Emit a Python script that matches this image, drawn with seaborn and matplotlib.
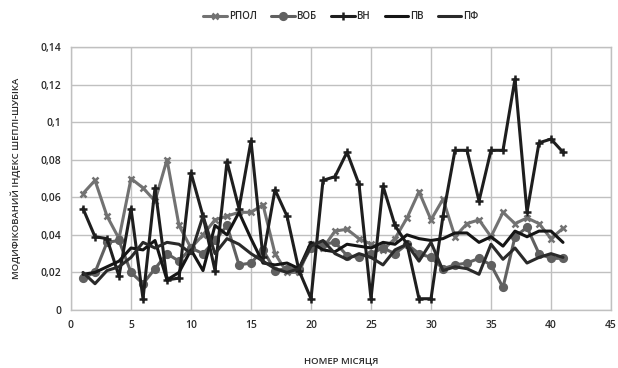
import numpy as np
import pandas as pd
import seaborn as sns
import matplotlib
matplotlib.use("Agg")
import matplotlib.pyplot as plt
from matplotlib.ticker import FuncFormatter, MultipleLocator

months = list(range(1, 42))

rpol = [0.062, 0.069, 0.050, 0.038, 0.070, 0.065, 0.058, 0.080, 0.045, 0.033,
        0.040, 0.048, 0.050, 0.052, 0.052, 0.056, 0.030, 0.020, 0.020, 0.035,
        0.033, 0.042, 0.043, 0.038, 0.035, 0.032, 0.038, 0.049, 0.063, 0.048,
        0.059, 0.039, 0.046, 0.048, 0.039, 0.052, 0.046, 0.049, 0.046, 0.038,
        0.0435]
vob = [0.017, 0.020, 0.036, 0.037, 0.020, 0.014, 0.022, 0.030, 0.026, 0.033,
       0.030, 0.037, 0.045, 0.024, 0.025, 0.032, 0.021, 0.022, 0.022, 0.033,
       0.035, 0.036, 0.029, 0.028, 0.030, 0.033, 0.030, 0.035, 0.030, 0.028,
       0.022, 0.024, 0.025, 0.0275, 0.024, 0.012, 0.039, 0.044, 0.030, 0.0275,
       0.0275]
vn = [0.054, 0.039, 0.038, 0.018, 0.054, 0.006, 0.065, 0.016, 0.017, 0.073,
      0.050, 0.021, 0.079, 0.054, 0.090, 0.028, 0.064, 0.050, 0.021, 0.006,
      0.069, 0.071, 0.084, 0.067, 0.006, 0.066, 0.045, 0.035, 0.006, 0.006,
      0.050, 0.085, 0.085, 0.058, 0.085, 0.085, 0.123, 0.052, 0.089, 0.091,
      0.084]
pv = [0.019, 0.020, 0.023, 0.026, 0.033, 0.032, 0.037, 0.016, 0.020, 0.032,
      0.021, 0.045, 0.040, 0.052, 0.038, 0.025, 0.024, 0.025, 0.022, 0.036,
      0.032, 0.031, 0.035, 0.034, 0.033, 0.036, 0.035, 0.040, 0.038, 0.037,
      0.038, 0.041, 0.041, 0.036, 0.039, 0.034, 0.042, 0.039, 0.042, 0.042,
      0.036]
pf = [0.020, 0.014, 0.021, 0.023, 0.028, 0.036, 0.033, 0.036, 0.035, 0.030,
      0.050, 0.030, 0.038, 0.035, 0.030, 0.026, 0.022, 0.020, 0.022, 0.034,
      0.037, 0.030, 0.027, 0.030, 0.028, 0.024, 0.032, 0.035, 0.026, 0.036,
      0.021, 0.023, 0.022, 0.019, 0.035, 0.027, 0.033, 0.025, 0.028, 0.030,
      0.028]

series_names = ["РПОЛ", "ВОБ", "ВН", "ПВ", "ПФ"]
series_values = [rpol, vob, vn, pv, pf]

sns.set_style("white")
plt.rcParams["font.family"] = ["Open Sans", "DejaVu Sans"]

fig = plt.figure(figsize=(6.18, 3.68), dpi=100)
ax = fig.add_axes([71/618, 1-310/368, (611-71)/618, (310-47)/368])

colors = {"РПОЛ": "#727272", "ВОБ": "#606060", "ВН": "#1e1e1e",
          "ПВ": "#151515", "ПФ": "#2a2a2a"}
markers = {"РПОЛ": "x", "ВОБ": "o", "ВН": "+", "ПВ": None, "ПФ": None}
msizes = {"РПОЛ": 4.5, "ВОБ": 4.8, "ВН": 5.5, "ПВ": 0, "ПФ": 0}

for name, vals in zip(series_names, series_values):
    d = pd.DataFrame({"month": months, "value": vals})
    sns.lineplot(data=d, x="month", y="value", color=colors[name],
                 marker=markers[name], markersize=msizes[name],
                 markeredgewidth=1.8, markeredgecolor=colors[name],
                 linewidth=2.2, label=name, ax=ax)

ax.set_xlim(0, 45)
ax.set_ylim(0, 0.14)
ax.xaxis.set_major_locator(MultipleLocator(5))
ax.yaxis.set_major_locator(MultipleLocator(0.02))
fmt = FuncFormatter(lambda v, p: "0" if abs(v) < 1e-9 else f"{v:.2f}".rstrip("0").replace(".", ","))
ax.yaxis.set_major_formatter(fmt)
ax.grid(True, color="#c0c0c0", linewidth=1.0)
for s in ax.spines.values():
    s.set_color("#c0c0c0")
    s.set_linewidth(1.0)
ax.tick_params(axis="both", length=0, labelsize=7.5, colors="#2a2a2a", pad=7)
for lab in ax.get_xticklabels() + ax.get_yticklabels():
    lab.set_fontweight("semibold")

ax.set_xlabel("НОМЕР МІСЯЦЯ", fontsize=6.8, color="#2a2a2a", labelpad=18,
              fontweight="semibold")
ax.set_ylabel("МОДИФІКОВАНИЙ ІНДЕКС ШЕПЛІ-ШУБІКА", fontsize=6.8, color="#2a2a2a",
              labelpad=14, fontweight="semibold")

handles, labels = ax.get_legend_handles_labels()
leg = ax.legend(handles, labels, loc="center", bbox_to_anchor=(0.5, 1.115), ncol=5,
                frameon=False, fontsize=7, handlelength=2.4, columnspacing=1.5,
                handletextpad=0.2)
for t in leg.get_texts():
    t.set_fontweight("semibold")
    t.set_color("#2a2a2a")

fig.savefig("out.png", dpi=100)
